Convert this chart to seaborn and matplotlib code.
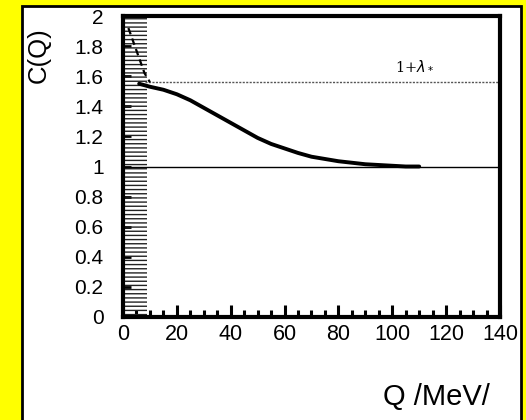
import matplotlib
matplotlib.use("Agg")
import matplotlib.pyplot as plt
import seaborn as sns
import pandas as pd
from matplotlib.patches import Rectangle
from matplotlib.ticker import MultipleLocator

# ---- data ----
q_fit = [6, 10, 15, 20, 25, 30, 35, 40, 45, 50, 55, 60, 65, 70, 75, 80, 85, 90, 95, 100, 105, 110]
c_fit = [1.55, 1.53, 1.51, 1.48, 1.44, 1.39, 1.34, 1.29, 1.24, 1.19, 1.15, 1.12, 1.09,
         1.065, 1.05, 1.035, 1.025, 1.015, 1.01, 1.005, 1.0, 1.0]
q_dash = [2, 4, 6, 8, 10]
c_dash = [1.92, 1.82, 1.72, 1.62, 1.56]
band_q = [0, 9]
lambda_level = 1.56
baseline = 1.0
x_ticks = [0, 20, 40, 60, 80, 100, 120, 140]
y_ticks = [0, 0.2, 0.4, 0.6, 0.8, 1, 1.2, 1.4, 1.6, 1.8, 2]
y_tick_labels = ["0", "0.2", "0.4", "0.6", "0.8", "1", "1.2", "1.4", "1.6", "1.8", "2"]

sns.set_theme(style="white")
plt.rcParams['font.family'] = ['Liberation Sans', 'DejaVu Sans']

fig = plt.figure(figsize=(5.26, 4.2), dpi=100)
fig.patch.set_facecolor("#FFFF00")
panel = Rectangle((22 / 526, -0.05), (521 - 22) / 526, 1 - 6 / 420 + 0.05,
                  transform=fig.transFigure, facecolor="white", edgecolor="black",
                  linewidth=2, zorder=-5)
fig.add_artist(panel)

ax = fig.add_axes([123 / 526, 1 - 317 / 420, (500 - 123) / 526, (317 - 16) / 420])
ax.set_zorder(1)
ax.set_facecolor("white")

# hatched band
ax.fill_betweenx([0, 2], band_q[0], band_q[1], facecolor="none", edgecolor="#222222",
                 hatch="----", linewidth=0, zorder=1)

# reference lines
ax.axhline(baseline, color="black", lw=1.0, zorder=2)
ax.plot([8, 140], [lambda_level, lambda_level], color="#555555", lw=1.0,
        linestyle=(0, (1.5, 1)), zorder=2)

df_fit = pd.DataFrame({"Q": q_fit, "C": c_fit})
df_dash = pd.DataFrame({"Q": q_dash, "C": c_dash})
sns.lineplot(data=df_fit, x="Q", y="C", ax=ax, color="black", lw=2.8, zorder=3)
sns.lineplot(data=df_dash, x="Q", y="C", ax=ax, color="black", lw=1.6,
             linestyle=(0, (3, 2)), zorder=3)

ax.text(101, 1.64, r"1+$\lambda_*$", fontsize=10.5, color="black",
        family=["DejaVu Serif"])

ax.set_xlim(0, 140)
ax.set_ylim(0, 2)
ax.set_xticks(x_ticks)
ax.set_xticklabels([str(t) for t in x_ticks])
ax.set_yticks(y_ticks)
ax.set_yticklabels(y_tick_labels)
ax.xaxis.set_minor_locator(MultipleLocator(5))
ax.tick_params(axis="x", which="major", direction="in", length=9, width=2.2,
               labelsize=15.5, pad=5, bottom=True, colors="black")
ax.tick_params(axis="x", which="minor", direction="in", length=5, width=2.2, bottom=True,
               colors="black")
ax.tick_params(axis="y", which="major", direction="in", length=6, width=2, left=True,
               labelsize=15, pad=14, colors="black")
for s in ax.spines.values():
    s.set_color("black")
    s.set_linewidth(3)
    s.set_visible(True)

ax.set_xlabel("")
ax.set_ylabel("")
fig.text(39 / 526, 1 - 55 / 420, "C(Q)", rotation=90, fontsize=18.5, ha="center",
         va="center", color="black")
fig.text(490 / 526, 1 - 397 / 420, "Q /MeV/", fontsize=21, ha="right", va="center",
         color="black")

fig.savefig("out.png", dpi=100, facecolor=fig.get_facecolor())
